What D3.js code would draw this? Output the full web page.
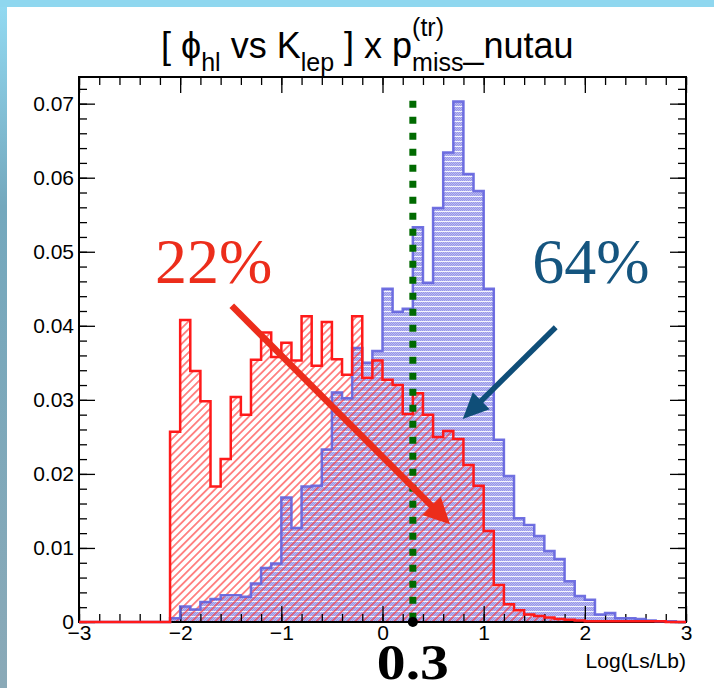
<!DOCTYPE html>
<html>
<head>
<meta charset="utf-8">
<script src="https://cdn.jsdelivr.net/npm/d3@7/dist/d3.min.js"></script>
<style>
  html, body { margin: 0; padding: 0; background: #fff; }
  svg { display: block; }
  text { white-space: pre; }
</style>
</head>
<body>
<svg id="chart"></svg>
<script>
// Histogram contents, 60 bins of 0.1 from -3 to 3.
var hBlue = [
  0, 0, 0, 0, 0, 0, 0, 0, 0, 0.0005,
  0.0021, 0.0017, 0.0027, 0.0031, 0.0036, 0.0036, 0.0034, 0.0052, 0.0073, 0.0079,
  0.0168, 0.0127, 0.0183, 0.0184, 0.0233, 0.0310, 0.0302, 0.0370, 0.0350, 0.0366,
  0.0450, 0.0419, 0.0423, 0.0533, 0.0458, 0.0559, 0.0634, 0.0703, 0.0605, 0.0582,
  0.0450, 0.0246, 0.0197, 0.0140, 0.0131, 0.0116, 0.0096, 0.0085, 0.0055, 0.0035,
  0.0030, 0.0010, 0.0012, 0.0005, 0.0005, 0.0004, 0.0002, 0.0001, 0.0001, 0
];
var hRed = [
  0, 0, 0, 0, 0, 0, 0, 0, 0, 0.0257,
  0.0408, 0.0339, 0.0298, 0.0183, 0.0220, 0.0304, 0.0280, 0.0354, 0.0391, 0.0358,
  0.0377, 0.0353, 0.0413, 0.0346, 0.0405, 0.0355, 0.0334, 0.0413, 0.0330, 0.0353,
  0.0327, 0.0320, 0.0281, 0.0309, 0.0280, 0.0250, 0.0258, 0.0247, 0.0212, 0.0184,
  0.0123, 0.0050, 0.0024, 0.0016, 0.0010, 0.0008, 0.0006, 0.0004, 0.0003, 0.0002,
  0.0001, 0.0001, 0.0001, 0.0001, 0.0001, 0.0001, 0.0001, 0.0001, 0, 0
];
var binEdges = d3.range(-30, 31).map(function (i) { return i / 10; });

var xTicks = [-3, -2, -1, 0, 1, 2, 3];
var yTicks = [0, 0.01, 0.02, 0.03, 0.04, 0.05, 0.06, 0.07];
var xTitle = 'Log(Ls/Lb)';

var cutValue = 0.3;
var cutLabel = '0.3';
var redLabel = '22%';
var blueLabel = '64%';

// Title pieces: normal text, subscripts and superscripts.
var titlePieces = [
  {text: '[ ', mode: 'n'},
  {text: '\u03D5', mode: 'n'},
  {text: 'hl', mode: 'sub'},
  {text: ' vs K', mode: 'n'},
  {text: 'lep', mode: 'sub'},
  {text: ' ] x p', mode: 'n'},
  {text: '(tr)', mode: 'sup'},
  {text: 'miss', mode: 'sub', stack: true},
  {text: '_nutau', mode: 'n'}
];

// Annotation anchors, in data units.
var redNote = {x: -2.25, y: 0.0458};
var blueNote = {x: 1.48, y: 0.0458};
var redArrow = {from: [-1.49, 0.0427], to: [0.667, 0.0132]};
var blueArrow = {from: [1.712, 0.0398], to: [0.793, 0.0274]};

// Dimensions of the chart.
var W = 714, H = 688;
var margin = {top: 77, right: 28, bottom: 66, left: 79};
var width = W - margin.left - margin.right;
var height = H - margin.top - margin.bottom;

var x = d3.scaleLinear().domain([-3, 3]).range([0, width]);
var y = d3.scaleLinear().domain([0, 0.0736]).range([height, 0]);

var sans = '"Liberation Sans", Arial, Helvetica, sans-serif';
var serif = '"Liberation Serif", "Times New Roman", serif';

var svg = d3.select('#chart').attr('width', W).attr('height', H);
var defs = svg.append('defs');

// Slide edge behind the canvas.
var grad = defs.append('linearGradient').attr('id', 'edge')
  .attr('x1', 0).attr('y1', 0).attr('x2', 0).attr('y2', 1);
[['0%', '#93dbf3'], ['30%', '#74a8bd'], ['100%', '#8aa9b7']].forEach(function (s) {
  grad.append('stop').attr('offset', s[0]).attr('stop-color', s[1]);
});
svg.append('rect').attr('width', W).attr('height', H).attr('fill', 'url(#edge)');
svg.append('rect').attr('width', W).attr('height', 7).attr('fill', '#8fd7ef');
svg.append('rect').attr('x', 7).attr('y', 7).attr('width', W - 7).attr('height', H - 7).attr('fill', '#fff');

// Blue fill: fine dots with white horizontal stripes.
var pb = defs.append('pattern').attr('id', 'blueFill')
  .attr('patternUnits', 'userSpaceOnUse').attr('width', 4).attr('height', 5);
pb.append('rect').attr('width', 4).attr('height', 5).attr('fill', '#babaf2');
[[0, 0], [2, 0], [1, 1], [3, 1], [0, 2], [2, 2], [1, 3], [3, 3]].forEach(function (p) {
  pb.append('rect').attr('x', p[0]).attr('y', p[1]).attr('width', 1).attr('height', 1).attr('fill', '#9898e8');
});
pb.append('rect').attr('y', 4).attr('width', 4).attr('height', 1).attr('fill', '#ffffff').attr('opacity', 0.85);

// Red hatch.
var pr = defs.append('pattern').attr('id', 'redHatch')
  .attr('patternUnits', 'userSpaceOnUse').attr('width', 5.5).attr('height', 5.5)
  .attr('patternTransform', 'rotate(45)');
pr.append('line').attr('x1', 2.75).attr('y1', 0).attr('x2', 2.75).attr('y2', 5.5)
  .attr('stroke', '#ff2a2a').attr('stroke-width', 1.1);

var vis = svg.append('g')
  .attr('transform', 'translate(' + margin.left + ',' + margin.top + ')');

function stepPoints(values) {
  var pts = values.map(function (v, i) { return [binEdges[i], v]; });
  pts.push([binEdges[values.length], values[values.length - 1]]);
  return pts;
}

var area = d3.area()
  .x(function (d) { return x(d[0]); })
  .y0(y(0))
  .y1(function (d) { return y(d[1]); })
  .curve(d3.curveStepAfter);
var line = d3.line()
  .x(function (d) { return x(d[0]); })
  .y(function (d) { return y(d[1]); })
  .curve(d3.curveStepAfter);

vis.append('path').datum(stepPoints(hBlue)).attr('d', area).attr('fill', 'url(#blueFill)');
vis.append('path').datum(stepPoints(hRed)).attr('d', area).attr('fill', 'url(#redHatch)');

// Axes, ticks inside the frame on all four sides.
function noDomain(g) { g.select('.domain').remove(); }
var xMinor = d3.range(-30, 31, 2).map(function (i) { return i / 10; });
var yMinor = d3.range(0, 37).map(function (i) { return i * 0.002; });

vis.append('g').attr('transform', 'translate(0,' + height + ')')
  .call(d3.axisBottom(x).tickValues(xMinor).tickSize(-8).tickFormat('')).call(noDomain);
vis.append('g')
  .call(d3.axisTop(x).tickValues(xMinor).tickSize(-8).tickFormat('')).call(noDomain);
vis.append('g')
  .call(d3.axisLeft(y).tickValues(yMinor).tickSize(-8).tickFormat('')).call(noDomain);
vis.append('g').attr('transform', 'translate(' + width + ',0)')
  .call(d3.axisRight(y).tickValues(yMinor).tickSize(-8).tickFormat('')).call(noDomain);

vis.append('g').attr('class', 'x-axis').attr('transform', 'translate(0,' + height + ')')
  .call(d3.axisBottom(x).tickValues(xTicks).tickSizeInner(-16).tickSizeOuter(0).tickPadding(3)
    .tickFormat(d3.format('d')))
  .call(noDomain);
vis.append('g')
  .call(d3.axisTop(x).tickValues(xTicks).tickSize(-16).tickFormat('')).call(noDomain);
vis.append('g').attr('class', 'y-axis')
  .call(d3.axisLeft(y).tickValues(yTicks).tickSizeInner(-16).tickSizeOuter(0).tickPadding(5)
    .tickFormat(function (d) { return d === 0 ? '0' : d3.format('.2f')(d); }))
  .call(noDomain);
vis.append('g').attr('transform', 'translate(' + width + ',0)')
  .call(d3.axisRight(y).tickValues(yTicks).tickSize(-16).tickFormat('')).call(noDomain);

vis.selectAll('.tick line').attr('stroke', '#000').attr('stroke-width', 1.3);
vis.selectAll('.x-axis, .y-axis').attr('font-family', sans).attr('font-size', 21);

vis.append('rect').attr('width', width).attr('height', height)
  .attr('fill', 'none').attr('stroke', '#000').attr('stroke-width', 2);

// Outlines.
vis.append('path').datum(stepPoints(hBlue)).attr('d', line)
  .attr('fill', 'none').attr('stroke', '#6262de').attr('stroke-width', 2.5).attr('stroke-opacity', 0.9);
vis.append('path').datum(stepPoints(hRed)).attr('d', line)
  .attr('fill', 'none').attr('stroke', '#ff1a1a').attr('stroke-width', 2.5);

// Cut line at 0.3.
vis.append('line')
  .attr('x1', x(cutValue)).attr('x2', x(cutValue))
  .attr('y1', y(0.0704)).attr('y2', y(0))
  .attr('stroke', '#006a00').attr('stroke-width', 7).attr('stroke-dasharray', '7 9');
vis.append('circle').attr('cx', x(cutValue)).attr('cy', y(0)).attr('r', 5).attr('fill', '#000');

function drawArrow(a, color, w, headLen, headHalf) {
  var x1 = x(a.from[0]), y1 = y(a.from[1]);
  var x2 = x(a.to[0]), y2 = y(a.to[1]);
  var dx = x2 - x1, dy = y2 - y1;
  var len = Math.sqrt(dx * dx + dy * dy);
  var ux = dx / len, uy = dy / len;
  var bx = x2 - ux * headLen, by = y2 - uy * headLen;
  vis.append('line')
    .attr('x1', x1).attr('y1', y1).attr('x2', bx + ux * 3).attr('y2', by + uy * 3)
    .attr('stroke', color).attr('stroke-width', w);
  vis.append('path')
    .attr('d', 'M' + x2 + ',' + y2 +
      'L' + (bx - uy * headHalf) + ',' + (by + ux * headHalf) +
      'L' + (bx + uy * headHalf) + ',' + (by - ux * headHalf) + 'Z')
    .attr('fill', color);
}
drawArrow(redArrow, '#ec2d1b', 6.5, 26, 13);
drawArrow(blueArrow, '#0f4e78', 5.5, 26, 12);

vis.append('text').attr('x', x(redNote.x)).attr('y', y(redNote.y))
  .attr('font-family', serif).attr('font-size', 64).attr('fill', '#ec2d1b').text(redLabel);
vis.append('text').attr('x', x(blueNote.x)).attr('y', y(blueNote.y))
  .attr('font-family', serif).attr('font-size', 64).attr('fill', '#15557f').text(blueLabel);

// Bold cut label, stretched a little like an extended bold face.
vis.append('text').attr('x', x(cutValue) - 36).attr('y', height + 57)
  .attr('font-family', serif).attr('font-weight', 'bold')
  .attr('font-size', 50).attr('textLength', 72).attr('lengthAdjust', 'spacingAndGlyphs')
  .attr('fill', '#000').text(cutLabel);

vis.append('text').attr('x', width).attr('y', height + 46)
  .attr('text-anchor', 'end').attr('font-family', sans).attr('font-size', 21)
  .attr('fill', '#000').text(xTitle);

// Title, placed piece by piece.
var cursor = 161, lastStart = 161, lastEnd = 161;
var baseline = 58;
titlePieces.forEach(function (p) {
  var size = p.mode === 'n' ? 36 : 25;
  var by = baseline + (p.mode === 'sub' ? 13 : p.mode === 'sup' ? -22 : 0);
  var startX = p.stack ? lastStart : cursor;
  var t = svg.append('text').attr('x', startX).attr('y', by)
    .attr('font-family', sans).attr('font-size', size).attr('fill', '#000').text(p.text);
  var end = startX + t.node().getComputedTextLength();
  if (p.stack) {
    cursor = Math.max(lastEnd, end);
  } else {
    cursor = end;
  }
  lastStart = startX;
  lastEnd = end;
});
</script>
</body>
</html>
